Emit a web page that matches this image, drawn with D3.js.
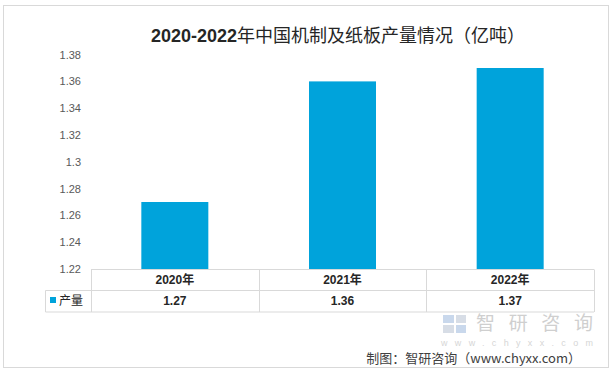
<!DOCTYPE html>
<html>
<head>
<meta charset="utf-8">
<script src="https://cdn.jsdelivr.net/npm/d3@7"></script>
<style>
body { margin: 0; background: #fff; }
svg text { font-family: "Liberation Sans", "Noto Sans CJK SC", sans-serif; }
.cjk { font-family: "Noto Sans CJK SC", sans-serif; }
</style>
</head>
<body>
<div id="chart"></div>
<script>
// chart data
var years = ["2020年", "2021年", "2022年"];
var output = [1.27, 1.36, 1.37];
var yTicks = [1.22, 1.24, 1.26, 1.28, 1.3, 1.32, 1.34, 1.36, 1.38];
var seriesName = "产量";
var titleNum = "2020-2022";
var titleText = "年中国机制及纸板产量情况（亿吨）";
var sourceText = "制图：智研咨询（www.chyxx.com）";

var W = 613, H = 372;
var barColor = "#00a3db";
var lineColor = "#d9d9d9";

var svg = d3.select("#chart").append("svg")
	.attr("width", W)
	.attr("height", H);

// outer frame
svg.append("rect")
	.attr("x", 3.5).attr("y", 5.5)
	.attr("width", 605).attr("height", 362)
	.attr("fill", "#fff")
	.attr("stroke", lineColor);

// title
var title = svg.append("text")
	.attr("x", 338).attr("y", 42)
	.attr("text-anchor", "middle")
	.attr("fill", "#262626")
	.style("font-size", "18px");
title.append("tspan").attr("font-weight", "bold").text(titleNum);
title.append("tspan").attr("class", "cjk").text(titleText);

var plot = {left: 91, right: 594, top: 55, bottom: 269};

var x = d3.scaleBand()
	.domain(years)
	.range([plot.left, plot.right])
	.paddingInner(0)
	.paddingOuter(0);

var y = d3.scaleLinear()
	.domain([1.22, 1.38])
	.range([plot.bottom, 54.6]);

// y axis labels, no line
var yAxis = d3.axisLeft(y)
	.tickValues(yTicks)
	.tickSize(0)
	.tickPadding(0)
	.tickFormat(d3.format(""));
var gy = svg.append("g")
	.attr("transform", "translate(81,0)")
	.call(yAxis);
gy.select(".domain").remove();
gy.selectAll("text")
	.attr("fill", "#595959")
	.style("font-size", "11px")
	.style("font-family", "'Liberation Sans', sans-serif");

// bars
var barW = 67;
svg.selectAll(".bar")
	.data(output)
	.enter().append("rect")
	.attr("class", "bar")
	.attr("x", function(d, i){ return x(years[i]) + x.bandwidth()/2 - barW/2; })
	.attr("y", function(d){ return y(d); })
	.attr("width", barW)
	.attr("height", function(d){ return y(1.22) - y(d); })
	.attr("fill", barColor);

// data table
var rowTop = 269.5, rowMid = 290.5, rowBot = 312;
var table = svg.append("g").attr("stroke", lineColor).attr("fill", "none");
table.append("line").attr("x1", plot.left).attr("x2", plot.right).attr("y1", rowTop).attr("y2", rowTop);
table.append("line").attr("x1", 45.5).attr("x2", plot.right).attr("y1", rowMid).attr("y2", rowMid);
table.append("line").attr("x1", 45.5).attr("x2", plot.right).attr("y1", rowBot).attr("y2", rowBot);
table.append("line").attr("x1", 45.5).attr("x2", 45.5).attr("y1", rowMid).attr("y2", rowBot);
var edges = years.map(function(d){ return x(d); }).concat([plot.right]);
edges.forEach(function(e){
	table.append("line")
		.attr("x1", Math.round(e) + 0.5).attr("x2", Math.round(e) + 0.5)
		.attr("y1", rowTop).attr("y2", rowBot);
});

svg.selectAll(".yearLabel")
	.data(years)
	.enter().append("text")
	.attr("class", "yearLabel")
	.attr("x", function(d){ return x(d) + x.bandwidth()/2; })
	.attr("y", 284)
	.attr("text-anchor", "middle")
	.attr("font-weight", "bold")
	.attr("fill", "#262626")
	.style("font-size", "12px")
	.text(function(d){ return d; });

svg.selectAll(".valLabel")
	.data(output)
	.enter().append("text")
	.attr("class", "valLabel")
	.attr("x", function(d, i){ return x(years[i]) + x.bandwidth()/2; })
	.attr("y", 305)
	.attr("text-anchor", "middle")
	.attr("font-weight", "bold")
	.attr("fill", "#262626")
	.style("font-size", "12px")
	.text(function(d){ return d3.format(".2f")(d); });

// legend key in the table
svg.append("rect")
	.attr("x", 50).attr("y", 297)
	.attr("width", 6).attr("height", 6)
	.attr("fill", barColor);
svg.append("text")
	.attr("class", "cjk")
	.attr("x", 59).attr("y", 305)
	.attr("fill", "#262626")
	.style("font-size", "12px")
	.text(seriesName);

// watermark
var wm = svg.append("g");
wm.append("rect").attr("x", 443).attr("y", 315).attr("width", 11).attr("height", 8).attr("fill", "#c9d8ec");
wm.append("rect").attr("x", 456).attr("y", 315).attr("width", 10).attr("height", 8).attr("fill", "#d7dde6");
wm.append("rect").attr("x", 443).attr("y", 325).attr("width", 11).attr("height", 8).attr("fill", "#d7dde6");
wm.append("rect").attr("x", 456).attr("y", 325).attr("width", 10).attr("height", 8).attr("fill", "#c9d8ec");
wm.append("text")
	.attr("class", "cjk")
	.attr("x", 476).attr("y", 330)
	.attr("fill", "#cfcfcf")
	.style("font-size", "19px")
	.attr("textLength", 117)
	.text("智研咨询");
wm.append("text")
	.attr("x", 441).attr("y", 345.5)
	.attr("fill", "#d6d6d6")
	.style("font-size", "9px")
	.attr("textLength", 152)
	.text("www.chyxx.com");

// source
svg.append("text")
	.attr("class", "cjk")
	.attr("x", 581).attr("y", 363)
	.attr("text-anchor", "end")
	.attr("fill", "#404040")
	.style("font-size", "13px")
	.text(sourceText);
</script>
</body>
</html>
